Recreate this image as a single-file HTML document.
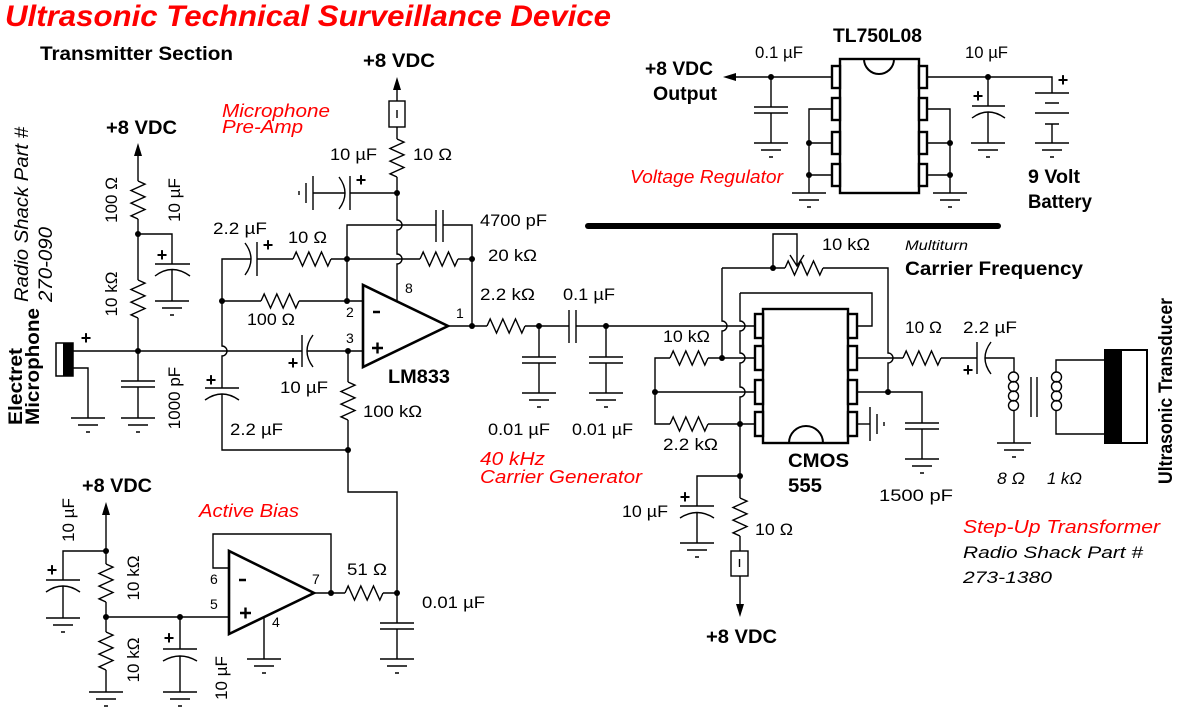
<!DOCTYPE html>
<html><head><meta charset="utf-8">
<style>
html,body{margin:0;padding:0;background:#fff;}
svg{display:block;}
text{font-family:"Liberation Sans",Arial,sans-serif;}
.n{font-size:17px;fill:#000;}
.b{font-size:19px;font-weight:bold;fill:#000;}
.i{font-size:17px;font-style:italic;fill:#000;}
.r{font-size:18px;font-style:italic;fill:#f00;}
.p{font-size:14px;fill:#000;}
.pl{font-size:18px;font-weight:bold;fill:#000;text-anchor:middle;}
</style></head><body>
<svg width="1178" height="713" viewBox="0 0 1178 713" xmlns="http://www.w3.org/2000/svg">
<defs>
<path id="r" d="M0 0l3.17 -7l6.33 14l6.33 -14l6.33 14l6.33 -14l6.33 14l3.17 -7" fill="none"/>
<path id="g" d="M-17 0H17M-10 7H10M-2 14H2" fill="none"/>
</defs>

<!-- separator -->
<path d="M588 226H998" stroke="#000" stroke-width="6" stroke-linecap="round"/>

<g stroke="#000" stroke-width="1.4" fill="none">
<!-- ===== Preamp supply ===== -->
<path d="M397 90V101"/>
<rect x="389" y="101" width="16" height="26" fill="#fff"/>
<path d="M397 110V118"/>
<path d="M397 127V139"/>
<use href="#r" transform="translate(397,139) rotate(90)"/>
<path d="M397 177V220A5 5 0 0 1 397 230V254A5 5 0 0 1 397 264V302"/>
<path d="M397 193H350M350 176V210M339 177Q351 193 339 209M345 193H313"/>
<use href="#g" transform="translate(313,193) rotate(90)"/>

<!-- feedback -->
<path d="M347 301V225H436M436 210V242M443 210V242M443 225H472V326"/>
<path d="M222 301V259H251M245 243Q257 259 245 275M257 242V276M257 259H293"/>
<use href="#r" transform="translate(293,259)"/>
<path d="M331 259H420"/>
<use href="#r" transform="translate(420,259)"/>
<path d="M458 259H472"/>
<path d="M222 301H261"/>
<use href="#r" transform="translate(261,301)"/>
<path d="M299 301H363"/>

<!-- output chain -->
<path d="M448 326H487"/>
<use href="#r" transform="translate(487,326)"/>
<path d="M525 326H569M569 310V343M576 310V343M576 326H755"/>
<path d="M539 326V357M522 357H556M522 363H556M539 363V393"/>
<use href="#g" transform="translate(539,393)"/>
<path d="M606 326V357M589 357H623M589 363H623M606 363V393"/>
<use href="#g" transform="translate(606,393)"/>

<!-- mic -->
<path d="M73 351H302M302 335V367M313 335Q301 351 313 367M307 351H363"/>
<path d="M73 368H88V418"/>
<use href="#g" transform="translate(88,418)"/>
<path d="M138 156V181"/>
<use href="#r" transform="translate(138,181) rotate(90)"/>
<path d="M138 219V280"/>
<use href="#r" transform="translate(138,280) rotate(90)"/>
<path d="M138 318V381M121 381H155M121 387H155M138 387V418"/>
<use href="#g" transform="translate(138,418)"/>
<path d="M138 234H172V264M155 264H190M155 276Q172 263 190 276M172 270V301"/>
<use href="#g" transform="translate(172,301)"/>
<path d="M348 351V382"/>
<use href="#r" transform="translate(348,382) rotate(90)"/>
<path d="M348 420V492H397V593"/>
<path d="M222 301V346A5 5 0 0 1 222 356V388M205 388H239M205 400Q222 388 239 400M222 394V450H348"/>

<!-- active bias -->
<path d="M106 515V564"/>
<use href="#r" transform="translate(106,564) rotate(90)"/>
<path d="M106 602V632"/>
<use href="#r" transform="translate(106,632) rotate(90)"/>
<path d="M106 670V692"/>
<use href="#g" transform="translate(106,692)"/>
<path d="M106 551H63V580M46 580H80M46 592Q63 580 80 592M63 586V618"/>
<use href="#g" transform="translate(63,618)"/>
<path d="M106 617H229M180 617V649M163 649H197M163 661Q180 651 197 661M180 656V692"/>
<use href="#g" transform="translate(180,692)"/>
<path d="M229 568H213V534H331V593"/>
<path d="M314 593H345"/>
<use href="#r" transform="translate(345,593)"/>
<path d="M383 593H397V623M380 623H414M380 629H414M397 629V659"/>
<use href="#g" transform="translate(397,659)"/>
<path d="M264 617V659"/>
<use href="#g" transform="translate(264,659)"/>

<!-- regulator -->
<path d="M736 77H832"/>
<path d="M771 77V107M754 107H788M754 113H788M771 113V143"/>
<use href="#g" transform="translate(771,143)"/>
<path d="M832 109H809V193M832 143H809M832 175H809"/>
<use href="#g" transform="translate(809,193)"/>
<path d="M927 77H1052V93"/>
<path d="M1035 93H1069M1045 103H1059M1035 113H1069M1045 124H1059M1052 124V143"/>
<use href="#g" transform="translate(1052,143)"/>
<path d="M988 77V106M972 106H1005M972 118Q988 106 1005 118M988 112V143"/>
<use href="#g" transform="translate(988,143)"/>
<path d="M927 109H950V193M927 143H950M927 175H950"/>
<use href="#g" transform="translate(950,193)"/>

<!-- 555 -->
<path d="M722 268V321A5 5 0 0 1 722 331V358"/>
<path d="M722 268H785"/>
<use href="#r" transform="translate(785,268)"/>
<path d="M823 268H888V353A5 5 0 0 1 888 363V392"/>
<path d="M773 268V234H797V266M790 255L797 266L804 255"/>
<path d="M740 293V321A5 5 0 0 1 740 331V353A5 5 0 0 1 740 363V387A5 5 0 0 1 740 397V498"/>
<path d="M740 293H872V326H857"/>
<path d="M755 358H708"/>
<use href="#r" transform="translate(670,358)"/>
<path d="M670 358H655V424H670"/>
<use href="#r" transform="translate(670,424)"/>
<path d="M708 424H755M655 392H755"/>
<path d="M857 358H903"/>
<use href="#r" transform="translate(903,358)"/>
<path d="M941 358H977M977 342V374M991 342Q979 358 991 374M985 358H1014V372"/>
<!-- primary coil -->
<circle cx="1013.5" cy="377" r="5"/>
<circle cx="1013.5" cy="386.5" r="5"/>
<circle cx="1013.5" cy="396" r="5"/>
<circle cx="1013.5" cy="405.5" r="5"/>
<path d="M1014 410.5V443"/>
<use href="#g" transform="translate(1014,443)"/>
<path d="M1031 377V417M1037 377V417"/>
<!-- secondary coil -->
<path d="M1105 360H1056V372"/>
<circle cx="1056.5" cy="377" r="5"/>
<circle cx="1056.5" cy="386.5" r="5"/>
<circle cx="1056.5" cy="396" r="5"/>
<circle cx="1056.5" cy="405.5" r="5"/>
<path d="M1056 410.5V434H1105"/>
<path d="M857 392H922V423M905 423H939M905 429H939M922 429V459"/>
<use href="#g" transform="translate(922,459)"/>
<path d="M857 424H870"/>
<use href="#g" transform="translate(870,424) rotate(-90)"/>
<path d="M740 476H697V506M680 506H714M680 518Q697 507 714 518M697 513V543"/>
<use href="#g" transform="translate(697,543)"/>
<use href="#r" transform="translate(740,498) rotate(90)"/>
<path d="M740 536V551"/>
<rect x="731" y="551" width="17" height="25" fill="#fff"/>
<path d="M739.5 559V567M740 576V604"/>
</g>

<!-- Mic body -->
<rect x="56" y="343" width="17" height="33" fill="#fff" stroke="#000" stroke-width="1.5"/>
<rect x="63" y="343" width="10" height="33" fill="#000"/>

<!-- Transducer -->
<rect x="1105" y="350" width="42" height="93" fill="#fff" stroke="#000" stroke-width="2"/>
<rect x="1105" y="350" width="17" height="93" fill="#000"/>

<!-- Opamps -->
<polygon points="363,285 363,367 448,326" fill="#fff" stroke="#000" stroke-width="2.6" stroke-linejoin="miter"/>
<polygon points="229,551 229,634 314,593" fill="#fff" stroke="#000" stroke-width="2.6" stroke-linejoin="miter"/>
<g stroke="#000" stroke-width="2.4">
<path d="M373 312H380M372 348H383M377.5 342.5V353.5"/>
<path d="M239 580H246M240 613H251M245.5 607.5V618.5"/>
</g>

<!-- Chips -->
<g stroke="#000" stroke-width="2.4" fill="#fff">
<rect x="840" y="59" width="79" height="134"/>
<rect x="832" y="66" width="8" height="22"/>
<rect x="832" y="98" width="8" height="22"/>
<rect x="832" y="132" width="8" height="22"/>
<rect x="832" y="164" width="8" height="22"/>
<rect x="919" y="66" width="8" height="22"/>
<rect x="919" y="98" width="8" height="22"/>
<rect x="919" y="132" width="8" height="22"/>
<rect x="919" y="164" width="8" height="22"/>
<rect x="763" y="309" width="85" height="134"/>
<rect x="755" y="314" width="8" height="24"/>
<rect x="755" y="346" width="8" height="24"/>
<rect x="755" y="380" width="8" height="24"/>
<rect x="755" y="412" width="8" height="24"/>
<rect x="848" y="314" width="9" height="24"/>
<rect x="848" y="346" width="9" height="24"/>
<rect x="848" y="380" width="9" height="24"/>
<rect x="848" y="412" width="9" height="24"/>
</g>
<g stroke="#000" stroke-width="2" fill="none">
<path d="M864 59A15 15 0 0 0 894 59"/>
<path d="M789 443A17 17 0 0 1 823 443"/>
</g>

<!-- Arrows -->
<g fill="#000">
<polygon points="397,77 393,90 401,90"/>
<polygon points="138,143 134,156 142,156"/>
<polygon points="106,502 102,515 110,515"/>
<polygon points="740,617 736,604 744,604"/>
<polygon points="723,77 736,73 736,81"/>
</g>

<!-- Nodes -->
<g fill="#000">
<circle cx="397" cy="193" r="3"/><circle cx="347" cy="259" r="3"/><circle cx="472" cy="259" r="3"/>
<circle cx="347" cy="301" r="3"/><circle cx="222" cy="301" r="3"/><circle cx="472" cy="326" r="3"/>
<circle cx="539" cy="326" r="3"/><circle cx="606" cy="326" r="3"/><circle cx="138" cy="234" r="3"/>
<circle cx="138" cy="351" r="3"/><circle cx="348" cy="351" r="3"/><circle cx="348" cy="450" r="3"/>
<circle cx="106" cy="551" r="3"/><circle cx="106" cy="617" r="3"/><circle cx="180" cy="617" r="3"/>
<circle cx="331" cy="593" r="3"/><circle cx="397" cy="593" r="3"/><circle cx="771" cy="77" r="3"/>
<circle cx="809" cy="143" r="3"/><circle cx="809" cy="175" r="3"/><circle cx="988" cy="77" r="3"/>
<circle cx="950" cy="143" r="3"/><circle cx="950" cy="175" r="3"/><circle cx="773" cy="268" r="3"/>
<circle cx="722" cy="358" r="3"/><circle cx="655" cy="392" r="3"/><circle cx="740" cy="424" r="3"/>
<circle cx="888" cy="392" r="3"/><circle cx="740" cy="476" r="3"/>
</g>

<!-- Title & headings -->
<text x="5" y="26" font-size="30" font-weight="bold" font-style="italic" fill="#f00" textLength="606" lengthAdjust="spacingAndGlyphs">Ultrasonic Technical Surveillance Device</text>
<text class="b" x="40" y="60" textLength="193" lengthAdjust="spacingAndGlyphs">Transmitter Section</text>

<!-- Red italic section labels -->
<text class="r" x="222" y="117" textLength="108" lengthAdjust="spacingAndGlyphs">Microphone</text>
<text class="r" x="222" y="133" textLength="81" lengthAdjust="spacingAndGlyphs">Pre-Amp</text>
<text class="r" x="199" y="517" textLength="100" lengthAdjust="spacingAndGlyphs">Active Bias</text>
<text class="r" x="480" y="465" textLength="65" lengthAdjust="spacingAndGlyphs">40 kHz</text>
<text class="r" x="480" y="483" textLength="162" lengthAdjust="spacingAndGlyphs">Carrier Generator</text>
<text class="r" x="630" y="183" textLength="153" lengthAdjust="spacingAndGlyphs">Voltage Regulator</text>
<text class="r" x="963" y="533" textLength="197" lengthAdjust="spacingAndGlyphs">Step-Up Transformer</text>
<text class="i" x="963" y="558" textLength="180" lengthAdjust="spacingAndGlyphs">Radio Shack Part #</text>
<text class="i" x="963" y="583" textLength="89" lengthAdjust="spacingAndGlyphs">273-1380</text>

<!-- Bold labels -->
<text class="b" x="363" y="67" textLength="72" lengthAdjust="spacingAndGlyphs">+8 VDC</text>
<text class="b" x="106" y="134" textLength="71" lengthAdjust="spacingAndGlyphs">+8 VDC</text>
<text class="b" x="82" y="492" textLength="70" lengthAdjust="spacingAndGlyphs">+8 VDC</text>
<text class="b" x="645" y="75" textLength="68" lengthAdjust="spacingAndGlyphs">+8 VDC</text>
<text class="b" x="653" y="100" textLength="64" lengthAdjust="spacingAndGlyphs">Output</text>
<text class="b" x="833" y="42" textLength="89" lengthAdjust="spacingAndGlyphs">TL750L08</text>
<text class="b" x="388" y="383" textLength="62" lengthAdjust="spacingAndGlyphs">LM833</text>
<text class="b" x="1028" y="183" textLength="52" lengthAdjust="spacingAndGlyphs">9 Volt</text>
<text class="b" x="1028" y="208" textLength="64" lengthAdjust="spacingAndGlyphs">Battery</text>
<text class="b" x="905" y="275" textLength="178" lengthAdjust="spacingAndGlyphs">Carrier Frequency</text>
<text class="b" x="788" y="467" textLength="61" lengthAdjust="spacingAndGlyphs">CMOS</text>
<text class="b" x="788" y="492" textLength="34" lengthAdjust="spacingAndGlyphs">555</text>
<text class="b" x="706" y="643" textLength="71" lengthAdjust="spacingAndGlyphs">+8 VDC</text>
<text font-size="14" font-style="italic" x="905" y="250" textLength="63" lengthAdjust="spacingAndGlyphs">Multiturn</text>

<!-- Component values -->
<text class="n" x="330" y="160" textLength="47" lengthAdjust="spacingAndGlyphs">10 µF</text>
<text class="n" x="413" y="160" textLength="39" lengthAdjust="spacingAndGlyphs">10 Ω</text>
<text class="n" x="480" y="226" textLength="67" lengthAdjust="spacingAndGlyphs">4700 pF</text>
<text class="n" x="488" y="261" textLength="49" lengthAdjust="spacingAndGlyphs">20 kΩ</text>
<text class="n" x="213" y="234" textLength="54" lengthAdjust="spacingAndGlyphs">2.2 µF</text>
<text class="n" x="288" y="243" textLength="39" lengthAdjust="spacingAndGlyphs">10 Ω</text>
<text class="n" x="247" y="325" textLength="48" lengthAdjust="spacingAndGlyphs">100 Ω</text>
<text class="n" x="280" y="393" textLength="48" lengthAdjust="spacingAndGlyphs">10 µF</text>
<text class="n" x="363" y="417" textLength="59" lengthAdjust="spacingAndGlyphs">100 kΩ</text>
<text class="n" x="230" y="435" textLength="53" lengthAdjust="spacingAndGlyphs">2.2 µF</text>
<text class="n" x="480" y="300" textLength="55" lengthAdjust="spacingAndGlyphs">2.2 kΩ</text>
<text class="n" x="563" y="300" textLength="52" lengthAdjust="spacingAndGlyphs">0.1 µF</text>
<text class="n" x="488" y="435" textLength="62" lengthAdjust="spacingAndGlyphs">0.01 µF</text>
<text class="n" x="572" y="435" textLength="61" lengthAdjust="spacingAndGlyphs">0.01 µF</text>
<text class="n" x="347" y="575" textLength="40" lengthAdjust="spacingAndGlyphs">51 Ω</text>
<text class="n" x="422" y="608" textLength="63" lengthAdjust="spacingAndGlyphs">0.01 µF</text>
<text class="n" x="755" y="58" textLength="48" lengthAdjust="spacingAndGlyphs">0.1 µF</text>
<text class="n" x="965" y="58" textLength="43" lengthAdjust="spacingAndGlyphs">10 µF</text>
<text class="n" x="822" y="250" textLength="48" lengthAdjust="spacingAndGlyphs">10 kΩ</text>
<text class="n" x="663" y="342" textLength="47" lengthAdjust="spacingAndGlyphs">10 kΩ</text>
<text class="n" x="663" y="450" textLength="55" lengthAdjust="spacingAndGlyphs">2.2 kΩ</text>
<text class="n" x="905" y="333" textLength="37" lengthAdjust="spacingAndGlyphs">10 Ω</text>
<text class="n" x="963" y="333" textLength="54" lengthAdjust="spacingAndGlyphs">2.2 µF</text>
<text class="n" x="879" y="501" textLength="74" lengthAdjust="spacingAndGlyphs">1500 pF</text>
<text class="n" x="622" y="517" textLength="46" lengthAdjust="spacingAndGlyphs">10 µF</text>
<text class="n" x="755" y="535" textLength="38" lengthAdjust="spacingAndGlyphs">10 Ω</text>
<text class="i" x="997" y="484" textLength="28" lengthAdjust="spacingAndGlyphs">8 Ω</text>
<text class="i" x="1047" y="484" textLength="35" lengthAdjust="spacingAndGlyphs">1 kΩ</text>

<!-- Rotated labels -->
<text class="n" text-anchor="middle" transform="translate(117,200) rotate(-90)">100 Ω</text>
<text class="n" text-anchor="middle" transform="translate(180,200) rotate(-90)">10 µF</text>
<text class="n" text-anchor="middle" transform="translate(117,294) rotate(-90)">10 kΩ</text>
<text class="n" text-anchor="middle" transform="translate(180,398) rotate(-90)">1000 pF</text>
<text class="n" text-anchor="middle" transform="translate(74,520) rotate(-90)">10 µF</text>
<text class="n" text-anchor="middle" transform="translate(139,578) rotate(-90)">10 kΩ</text>
<text class="n" text-anchor="middle" transform="translate(139,660) rotate(-90)">10 kΩ</text>
<text class="n" text-anchor="middle" transform="translate(227,678) rotate(-90)">10 µF</text>
<text font-size="19" font-style="italic" transform="translate(28,302) rotate(-90)" textLength="175" lengthAdjust="spacingAndGlyphs">Radio Shack Part #</text>
<text font-size="19" font-style="italic" transform="translate(52,302) rotate(-90)" textLength="75" lengthAdjust="spacingAndGlyphs">270-090</text>
<text class="b" transform="translate(22,425) rotate(-90)" textLength="77" lengthAdjust="spacingAndGlyphs">Electret</text>
<text class="b" transform="translate(39,425) rotate(-90)" textLength="117" lengthAdjust="spacingAndGlyphs">Microphone</text>
<text class="b" transform="translate(1172,484) rotate(-90)" textLength="186" lengthAdjust="spacingAndGlyphs">Ultrasonic Transducer</text>

<!-- Pin numbers -->
<text class="p" x="346" y="317">2</text>
<text class="p" x="346" y="343">3</text>
<text class="p" x="405" y="293">8</text>
<text class="p" x="456" y="318">1</text>
<text class="p" x="210" y="584">6</text>
<text class="p" x="210" y="609">5</text>
<text class="p" x="312" y="584">7</text>
<text class="p" x="272" y="627">4</text>

<!-- Polarity plus signs -->
<text class="pl" x="86" y="344">+</text>
<text class="pl" x="361" y="186">+</text>
<text class="pl" x="268" y="251">+</text>
<text class="pl" x="162" y="261">+</text>
<text class="pl" x="211" y="386">+</text>
<text class="pl" x="293" y="369">+</text>
<text class="pl" x="52" y="576">+</text>
<text class="pl" x="169" y="644">+</text>
<text class="pl" x="978" y="102">+</text>
<text class="pl" x="1063" y="86">+</text>
<text class="pl" x="968" y="376">+</text>
<text class="pl" x="685" y="503">+</text>
</svg>
</body></html>
